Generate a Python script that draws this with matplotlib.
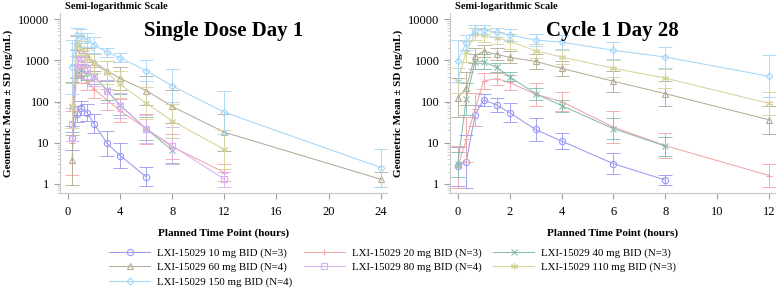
import numpy as np
import matplotlib
matplotlib.use("Agg")
import matplotlib.pyplot as plt
from matplotlib.ticker import LogLocator, NullFormatter, FixedLocator

plt.rcParams['font.family'] = ['Liberation Serif', 'DejaVu Serif']

nan = np.nan

# planned time points (hours)
t_day1 = [0.33, 0.67, 1, 1.5, 2, 3, 4, 6, 8, 12, 24]
t_c1d28 = [0, 0.33, 0.67, 1, 1.5, 2, 3, 4, 6, 8, 12]

groups = ['LXI-15029 10 mg BID (N=3)', 'LXI-15029 20 mg BID (N=3)',
          'LXI-15029 40 mg BID (N=3)', 'LXI-15029 60 mg BID (N=4)',
          'LXI-15029 80 mg BID (N=4)', 'LXI-15029 110 mg BID (N=3)',
          'LXI-15029 150 mg BID (N=4)']

# geometric means, Single Dose Day 1
day1_10 = [13, 50, 69, 53, 29, 9.8, 4.9, 1.5, nan, nan, nan]
day1_20 = [10, 450, 430, 300, 200, 110, 60, 22, 8.0, 1.9, nan]
day1_40 = [75, 550, 570, 500, 420, 190, 83, 22, 6.6, nan, nan]
day1_60 = [3.8, 2600, 1800, 1350, 900, 560, 365, 185, 76, 18, 1.3]
day1_80 = [28, 700, 1150, 600, 420, 180, 80, 22, 8.5, 1.3, nan]
day1_110 = [80, 2800, 2000, 1100, 850, 500, 260, 92, 34, 6.9, nan]
day1_150 = [690, 4000, 3900, 3100, 2350, 1560, 1160, 560, 240, 55, 2.5]

# geometric means, Cycle 1 Day 28 (no 80 mg data)
c1_10 = [2.7, 3.5, 47, 110, 83, 54, 21, 11, 3.1, 1.25, nan]
c1_20 = [2.6, 12, 65, 315, 360, 290, 150, 100, 24, 8.5, 1.6]
c1_40 = [3.0, 115, 930, 930, 670, 400, 155, 80, 22, 8.3, nan]
c1_60 = [125, 210, 1300, 1650, 1400, 1180, 940, 640, 310, 155, 36]
c1_80 = [nan] * 11
c1_110 = [320, 1600, 4300, 4000, 3500, 2900, 1700, 1200, 640, 370, 90]
c1_150 = [970, 2700, 5500, 5500, 4800, 4100, 3100, 2750, 1750, 1200, 410]

# SD spread (multiplicative factor around the mean)
day1_sd_10 = [2.0, 1.6, 1.5, 1.6, 1.7, 2.0, 2.0, 1.7, nan, nan, nan]
day1_sd_20 = [6.0, 1.6, 1.5, 1.6, 1.6, 1.8, 1.9, 2.3, 2.0, 1.6, nan]
day1_sd_40 = [4.0, 1.5, 1.4, 1.5, 1.6, 1.7, 1.8, 1.9, 2.0, nan, nan]
day1_sd_60 = [4.0, 1.5, 1.5, 1.5, 1.6, 1.7, 1.9, 2.2, 2.5, 2.8, 1.5]
day1_sd_80 = [2.5, 1.8, 1.5, 1.7, 1.8, 1.9, 2.0, 2.2, 2.8, 1.5, nan]
day1_sd_110 = [3.5, 1.5, 1.5, 1.6, 1.7, 1.9, 2.1, 2.4, 2.6, 3.0, nan]
day1_sd_150 = [4.5, 1.5, 1.5, 1.5, 1.6, 1.3, 1.3, 1.8, 2.5, 3.3, 2.9]

c1_sd_10 = [3.0, 4.5, 1.8, 1.4, 1.5, 1.7, 1.9, 1.6, 1.8, 1.3, nan]
c1_sd_20 = [3.2, 3.5, 2.5, 1.6, 1.4, 1.5, 1.9, 1.7, 2.4, 2.0, 1.9]
c1_sd_40 = [2.0, 2.5, 1.5, 1.5, 1.3, 1.3, 1.4, 1.4, 1.8, 1.7, nan]
c1_sd_60 = [3.0, 2.5, 1.5, 1.4, 1.4, 1.4, 1.5, 1.5, 1.8, 2.0, 2.2]
c1_sd_80 = [nan] * 11
c1_sd_110 = [2.0, 1.8, 1.4, 1.4, 1.4, 1.5, 1.5, 1.5, 1.6, 1.7, 1.9]
c1_sd_150 = [3.2, 1.5, 1.3, 1.3, 1.3, 1.4, 1.4, 1.5, 1.6, 1.8, 3.2]

day1 = [day1_10, day1_20, day1_40, day1_60, day1_80, day1_110, day1_150]
day1_sd = [day1_sd_10, day1_sd_20, day1_sd_40, day1_sd_60, day1_sd_80,
           day1_sd_110, day1_sd_150]
c1 = [c1_10, c1_20, c1_40, c1_60, c1_80, c1_110, c1_150]
c1_sd = [c1_sd_10, c1_sd_20, c1_sd_40, c1_sd_60, c1_sd_80, c1_sd_110, c1_sd_150]

colors = ['#9a9af5', '#f2a6a6', '#86bcae', '#b4ac96', '#dcaef5', '#d4d49c', '#a6d6f8']
markers = ['o', '+', 'x', '^', 's', (6, 2, 0), 'D']
msizes = [4.5, 5, 4, 4.5, 4.5, 5, 3.5]

fig = plt.figure(figsize=(7.77, 2.9), dpi=100)
ax1 = fig.add_axes([0.0772, 0.334, 0.421, 0.621])
ax2 = fig.add_axes([0.579, 0.334, 0.419, 0.621])


def draw_panel(ax, t, means, sds, xmax, xticks, title, tx, fx):
    handles = []
    t = np.array(t)
    for i in range(len(groups)):
        m = np.array(means[i], dtype=float)
        f = np.array(sds[i], dtype=float)
        ok = ~np.isnan(m)
        lo = m[ok] - m[ok] / f[ok]
        hi = m[ok] * f[ok] - m[ok]
        ax.errorbar(t[ok], m[ok], yerr=[lo, hi], fmt='none', ecolor=colors[i],
                    elinewidth=0.7, capsize=5, capthick=0.7, alpha=0.9)
        h, = ax.plot(t[ok], m[ok], color=colors[i], lw=0.75, marker=markers[i],
                     ms=msizes[i], mfc='none', mec=colors[i], mew=0.8,
                     label=groups[i])
        handles.append(h)
    ax.set_yscale('log')
    ax.set_ylim(0.6, 14000)
    ax.set_xlim(-0.025 * xmax, xmax * 1.02)
    ax.xaxis.set_major_locator(FixedLocator(xticks))
    ax.yaxis.set_major_locator(FixedLocator([1, 10, 100, 1000, 10000]))
    ax.set_yticklabels(['1', '10', '100', '1000', '10000'])
    ax.yaxis.set_minor_locator(LogLocator(base=10, subs=np.arange(2, 10)))
    ax.yaxis.set_minor_formatter(NullFormatter())
    for s in ['top', 'right']:
        ax.spines[s].set_visible(False)
    for s in ['left', 'bottom']:
        ax.spines[s].set_color('#c8c8c8')
        ax.spines[s].set_linewidth(0.8)
    ax.tick_params(axis='both', which='major', labelsize=9, colors='#a0a0a0',
                   labelcolor='black', length=4, width=0.8)
    ax.tick_params(axis='x', which='major', pad=5)
    ax.tick_params(axis='y', which='minor', colors='#c8c8c8', length=2.5, width=0.6)
    ax.set_xlabel('Planned Time Point (hours)', fontsize=8, fontweight='bold',
                  labelpad=8)
    ax.set_ylabel('Geometric Mean \u00b1 SD (ng/mL)', fontsize=8, fontweight='bold',
                  labelpad=4)
    fig.text(fx, 0.978, 'Semi-logarithmic Scale', fontsize=7.5, fontweight='bold',
             va='center', ha='left')
    ax.text(tx, 0.9, title, transform=ax.transAxes, fontsize=15,
            fontweight='bold', ha='center', va='center')
    return handles


handles = draw_panel(ax1, t_day1, day1, day1_sd, 24, [0, 4, 8, 12, 16, 20, 24],
                     'Single Dose Day 1', 0.5, 0.084)
draw_panel(ax2, t_c1d28, c1, c1_sd, 12, [0, 2, 4, 6, 8, 10, 12], 'Cycle 1 Day 28',
           0.5, 0.585)

# legend filled row by row: 10, 20, 40 / 60, 80, 110 / 150
order = [0, 3, 6, 1, 4, 2, 5]
fig.legend([handles[k] for k in order], [groups[k] for k in order], ncol=3,
           loc='lower left', bbox_to_anchor=(0.128, -0.022), frameon=False,
           fontsize=7.8, handlelength=3.8, columnspacing=1.1, handletextpad=0.6,
           labelspacing=0.42)

fig.savefig('out.png', dpi=100)
